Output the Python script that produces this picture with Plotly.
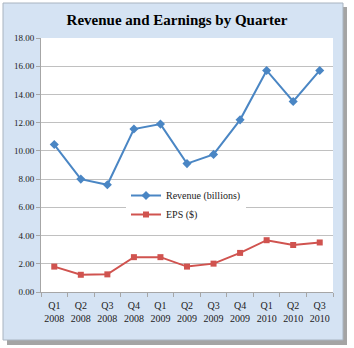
import plotly.graph_objects as go

quarters = ["Q1<br>2008", "Q2<br>2008", "Q3<br>2008", "Q4<br>2008",
            "Q1<br>2009", "Q2<br>2009", "Q3<br>2009", "Q4<br>2009",
            "Q1<br>2010", "Q2<br>2010", "Q3<br>2010"]
revenue = [10.45, 8.0, 7.6, 11.55, 11.9, 9.1, 9.75, 12.2, 15.7, 13.5, 15.7]
eps = [1.8, 1.22, 1.25, 2.47, 2.47, 1.8, 2.01, 2.77, 3.67, 3.33, 3.51]
y_ticks = [0, 2, 4, 6, 8, 10, 12, 14, 16, 18]

W, H = 354, 348
L, R, T, B = 41, 333, 38, 292  # plot area in pixels


def px(x):
    return (x - L) / (R - L)


def py(y):
    return (B - y) / (B - T)


SERIF = "Liberation Serif"

fig = go.Figure()
fig.add_trace(go.Scatter(
    x=quarters, y=revenue, name="Revenue (billions)", mode="lines+markers",
    line=dict(color="#4a86c4", width=2),
    marker=dict(symbol="diamond", size=7, color="#4a86c4"),
))
fig.add_trace(go.Scatter(
    x=quarters, y=eps, name="EPS ($)", mode="lines+markers",
    line=dict(color="#d0534f", width=2),
    marker=dict(symbol="square", size=6, color="#d0534f"),
))

shapes = [
    # drop shadow of the panel
    dict(type="rect", xref="paper", yref="paper", layer="below",
         x0=px(7), x1=px(347), y0=py(7), y1=py(345),
         fillcolor="rgba(90,90,90,0.55)", line=dict(width=0)),
    # light blue panel
    dict(type="rect", xref="paper", yref="paper", layer="below",
         x0=px(3), x1=px(343), y0=py(3), y1=py(340),
         fillcolor="#d5e3f3", line=dict(color="#a9b4c0", width=1)),
    # white plotting area
    dict(type="rect", xref="paper", yref="paper", layer="below",
         x0=0, x1=1, y0=0, y1=1,
         fillcolor="#ffffff", line=dict(width=0)),
]

fig.update_layout(
    width=W, height=H,
    margin=dict(l=L, r=W - R, t=T, b=H - B, pad=0),
    paper_bgcolor="#ffffff",
    plot_bgcolor="rgba(0,0,0,0)",
    shapes=shapes,
    title=dict(text="<b>Revenue and Earnings by Quarter</b>",
               x=0.5, xref="container", xanchor="center",
               y=1 - 20 / H, yanchor="middle",
               font=dict(family=SERIF, size=15, color="#000000")),
    font=dict(family=SERIF, size=9, color="#222222"),
    showlegend=True,
    legend=dict(x=px(126), y=py(181), xanchor="left", yanchor="top",
                bgcolor="#ffffff", borderwidth=0,
                font=dict(family=SERIF, size=10, color="#222222"),
                itemwidth=30),
    xaxis=dict(type="category", showgrid=False, showline=True,
               linecolor="#a6a6a6", linewidth=1,
               ticks="outside", tickson="boundaries", ticklen=4,
               tickcolor="#a6a6a6", range=[-0.5, 10.5], tickangle=0,
               ticklabelstandoff=4,
               tickfont=dict(family=SERIF, size=10, color="#222222")),
    yaxis=dict(range=[0, 18], tickvals=y_ticks, tickformat=".2f",
               showgrid=True, gridcolor="#c0c0c0", gridwidth=1,
               showline=True, linecolor="#a6a6a6", linewidth=1,
               zeroline=False, ticks="outside", ticklen=4,
               tickcolor="#a6a6a6",
               tickfont=dict(family=SERIF, size=9, color="#222222")),
)

fig.write_html("out.html")
